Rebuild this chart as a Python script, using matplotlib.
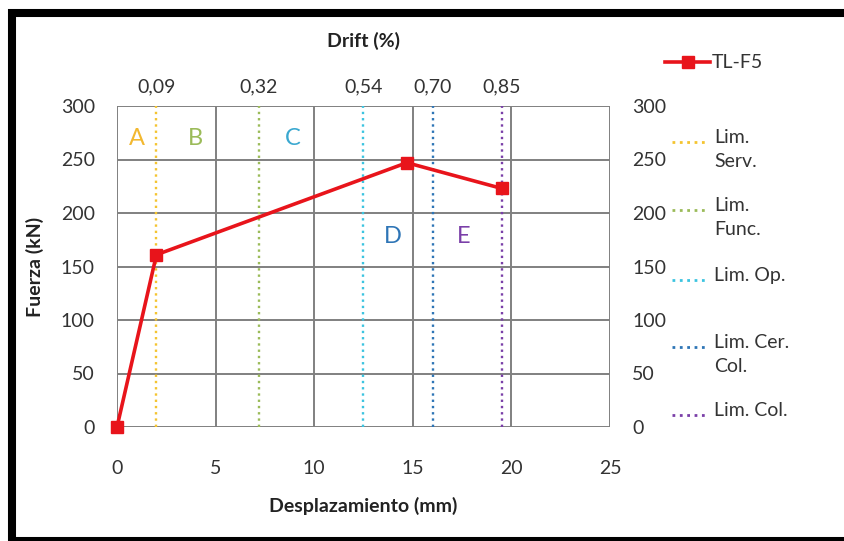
import matplotlib
matplotlib.use("Agg")
import matplotlib.pyplot as plt
from matplotlib.lines import Line2D
from matplotlib.patches import Rectangle

plt.rcParams['font.family'] = ['Lato', 'DejaVu Sans']

# curve TL-F5
desplazamiento = [0, 2.0, 14.7, 19.5]
fuerza = [0, 161, 247, 223]

# limit states (mm) and drift labels
lim_names = ['Lim.\nServ.', 'Lim.\nFunc.', 'Lim. Op.', 'Lim. Cer.\nCol.', 'Lim. Col.']
lim_x = [2.0, 7.2, 12.5, 16.0, 19.5]
drift_labels = ['0,09', '0,32', '0,54', '0,70', '0,85']
lim_colors = ['#F4C430', '#9BBB59', '#3CC4E0', '#2E75B6', '#7A3FA8']

# zone letters
zone_names = ['A', 'B', 'C', 'D', 'E']
zone_x = [1.0, 4.0, 8.9, 14.0, 17.6]
zone_y = [270, 270, 270, 178, 178]
zone_colors = ['#F2B830', '#9BBB59', '#3AA8D0', '#2E75B6', '#7A3FA8']

fig = plt.figure(figsize=(8.45, 5.41), dpi=100)
# black frame round the picture (cut off at right and bottom)
fig.patches.append(Rectangle((12 / 845, 0.0), 840 / 845, 1 - 13 / 541, transform=fig.transFigure,
                             fill=False, edgecolor='black', linewidth=5.8))

ax = fig.add_axes([117 / 845, 1 - 427 / 541, 493 / 845, 321 / 541])
ax.set_xlim(0, 25)
ax.set_ylim(0, 300)
ax.set_xticks(range(0, 26, 5))
ax.set_yticks(range(0, 301, 50))
ax.grid(True, color='#808080', linewidth=1.4)
for s in ax.spines.values():
    s.set_visible(False)
ax.tick_params(length=0, labelsize=14, colors='#333333')
ax.tick_params(axis='x', pad=24)
ax.tick_params(axis='y', labelright=True, pad=16)
ax.set_xlabel('Desplazamiento (mm)', fontsize=14, fontweight='bold', labelpad=14, color='#222222')
ax.set_ylabel('Fuerza (kN)', fontsize=14, fontweight='bold', labelpad=12, color='#222222')

for x, c in zip(lim_x, lim_colors):
    ax.axvline(x, color=c, linestyle=':', linewidth=1.7)

ax.plot(desplazamiento, fuerza, color='#E8141B', linewidth=2.6, marker='s',
        markersize=8, clip_on=False, zorder=5)

for n, x, y, c in zip(zone_names, zone_x, zone_y, zone_colors):
    ax.text(x, y, n, color=c, fontsize=17, ha='center', va='center')

top = ax.secondary_xaxis('top')
top.set_xticks(lim_x)
top.set_xticklabels(drift_labels)
top.tick_params(length=0, labelsize=14, colors='#333333', pad=8)
top.spines['top'].set_visible(False)
top.set_xlabel('Drift (%)', fontsize=14, fontweight='bold', labelpad=22, color='#222222')

# legend
fig.add_artist(Line2D([665 / 845, 710 / 845], [1 - 62 / 541] * 2, color='#E8141B', linewidth=2.6))
fig.add_artist(Line2D([688 / 845], [1 - 62 / 541], color='#E8141B', marker='s', markersize=8))
fig.text(712 / 845, 1 - 62 / 541, 'TL-F5', fontsize=14, va='center', color='#333333')
leg_y = [142, 210, 280, 347, 415]
for name, c, y in zip(lim_names, lim_colors, leg_y):
    fy = 1 - y / 541
    fig.add_artist(Line2D([672 / 845, 708 / 845], [fy, fy], color=c, linestyle=':', linewidth=2))
    fig.text(714 / 845, fy + 0.024, name, fontsize=14, va='top', color='#333333', linespacing=1.5)

fig.savefig('out.png', dpi=100)
